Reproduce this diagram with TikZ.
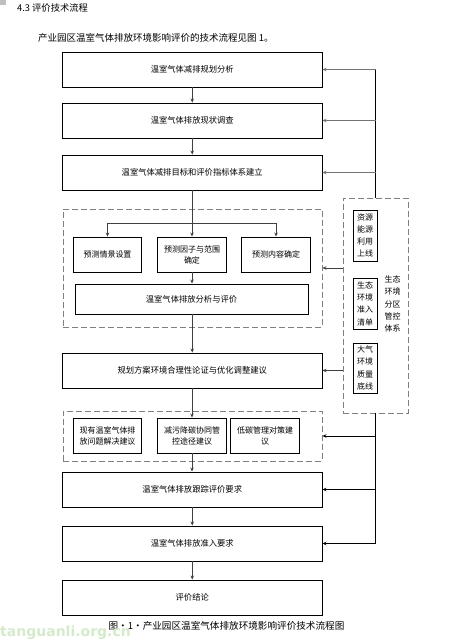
\documentclass[tikz,border=0pt]{standalone}
\usepackage{fontspec}
\setmainfont{Noto Sans CJK SC}
\newfontfamily\wmfont{DejaVu Sans}
\usetikzlibrary{arrows.meta}
\definecolor{wmgreen}{RGB}{212,234,202}
\begin{document}
\begin{tikzpicture}[x=1pt,y=-1pt,
  mainbox/.style={draw=black, line width=0.9pt, minimum width=259.5pt, minimum height=35pt, inner sep=0pt, font=\fontsize{8.3}{10}\selectfont},
  subbox/.style={draw=black, line width=0.9pt, minimum width=68.5pt, minimum height=35pt, inner sep=0pt, align=center, font=\fontsize{8}{11}\selectfont},
  sidebox/.style={draw=black, line width=1pt, minimum width=24pt, inner sep=0pt, align=center, font=\fontsize{8}{12.3}\selectfont},
  grp/.style={draw=black!50, dashed, dash pattern=on 6pt off 3pt, line width=0.9pt, inner sep=0pt},
  darr/.style={draw=black!75, line width=0.9pt, -{Stealth[length=4pt,width=3.5pt]}},
  rarr/.style={line width=0.9pt, -{Stealth[length=4pt,width=3.5pt]}},
  txt/.style={inner sep=0pt}
]
\useasboundingbox (0,0) rectangle (455,641);
\fill[black!25] (0,0) rectangle (6,5);

\node[txt, anchor=west, font=\fontsize{9.3}{11}\selectfont] (hdr) at (17,8) {4.3 评价技术流程};
\node[txt, anchor=west, font=\fontsize{9.5}{11}\selectfont] (intro) at (38,38) {产业园区温室气体排放环境影响评价的技术流程见图 1。};

% main boxes
\node[mainbox] (b1) at (192.25,69.5) {温室气体减排规划分析};
\node[mainbox] (b2) at (192.25,120.5) {温室气体排放现状调查};
\node[mainbox] (b3) at (192.25,172.5) {温室气体减排目标和评价指标体系建立};

% group 1
\node[grp, minimum width=259pt, minimum height=118pt] (g1) at (192.5,268) {};
\node[subbox] (p1) at (107.5,254.5) {预测情景设置};
\node[subbox] (p2) at (192,254.5) {预测因子与范围\\确定};
\node[subbox] (p3) at (276,254.5) {预测内容确定};
\node[mainbox, minimum width=233pt, minimum height=30pt] (an) at (191.5,299) {温室气体排放分析与评价};

\node[mainbox] (gh) at (192.25,370.5) {规划方案环境合理性论证与优化调整建议};

% group 2
\node[grp, minimum width=259pt, minimum height=50pt] (g2) at (192.5,436) {};
\node[subbox] (s1) at (107.5,435.5) {现有温室气体排\\放问题解决建议};
\node[subbox] (s2) at (192,435.5) {减污降碳协同管\\控途径建议};
\node[subbox] (s3) at (265,435.5) {低碳管理对策建\\议};

\node[mainbox] (gz) at (192.25,489.5) {温室气体排放跟踪评价要求};
\node[mainbox] (zr) at (192.25,543.5) {温室气体排放准入要求};
\node[mainbox] (jl) at (192.25,597.5) {评价结论};

\node[txt, font=\fontsize{9.6}{12}\selectfont] (cap) at (226.5,626) {图·1·产业园区温室气体排放环境影响评价技术流程图};

% side panel
\node[grp, minimum width=65pt, minimum height=215pt] (side) at (375.5,305.5) {};
\node[sidebox, minimum height=51pt] (k1) at (365,235.5) {资源\\能源\\利用\\上线};
\node[sidebox, minimum height=51pt] (k2) at (365,303.5) {生态\\环境\\准入\\清单};
\node[sidebox, minimum height=50pt] (k3) at (365,368) {大气\\环境\\质量\\底线};
\node[txt, align=center, font=\fontsize{8}{12.3}\selectfont] (st) at (392.5,304) {生态\\环境\\分区\\管控\\体系};

% main vertical connectors
\draw[darr] (b1) -- (b2);
\draw[darr] (b2) -- (b3);
\coordinate (br) at (192,223);
\draw[draw=black!75, line width=0.9pt] (b3.south -| br) -- (br);
\draw[darr] (br) -| (p1.north);
\draw[darr] (br) -| (p3.north);
\draw[darr] (br) -- (p2.north);
\draw[darr] (p2) -- (p2 |- an.north);
\draw[darr] (an.south -| gh.north) -- (gh.north);
\draw[darr] (gh.south) -- (gh.south -| s2) -- (s2.north);
\draw[darr] (s2.south) -- (s2.south |- gz.north);
\draw[darr] (gz) -- (zr);
\draw[darr] (zr) -- (jl);

% right side connectors
\draw[black, line width=0.9pt] (side.north) -- (side.north |- b1.east);
\draw[black, line width=0.9pt] (side.south) -- (side.south |- zr.east);
\draw[rarr, draw=black!55, line width=1.2pt] (side.north |- b1.east) -- (b1.east);
\draw[rarr, draw=black!55, line width=1.2pt] (side.north |- b2.east) -- (b2.east);
\draw[rarr, draw=black!55, line width=1.2pt] (side.north |- b3.east) -- (b3.east);
\draw[rarr, draw=black!75] (side.west |- g1.east) -- (g1.east);
\draw[rarr, draw=black!75] (side.west |- gh.east) -- (gh.east);
\draw[rarr, draw=black] (side.south |- g2.east) -- (g2.east);
\draw[rarr, draw=black] (side.south |- gz.east) -- (gz.east);
\draw[rarr, draw=black] (side.south |- zr.east) -- (zr.east);

% watermark
\node[txt, anchor=base west, text=wmgreen, font=\wmfont\bfseries\fontsize{14}{15}\selectfont] (wm) at (0,636.5) {tanguanli.org.cn};
\end{tikzpicture}
\end{document}
